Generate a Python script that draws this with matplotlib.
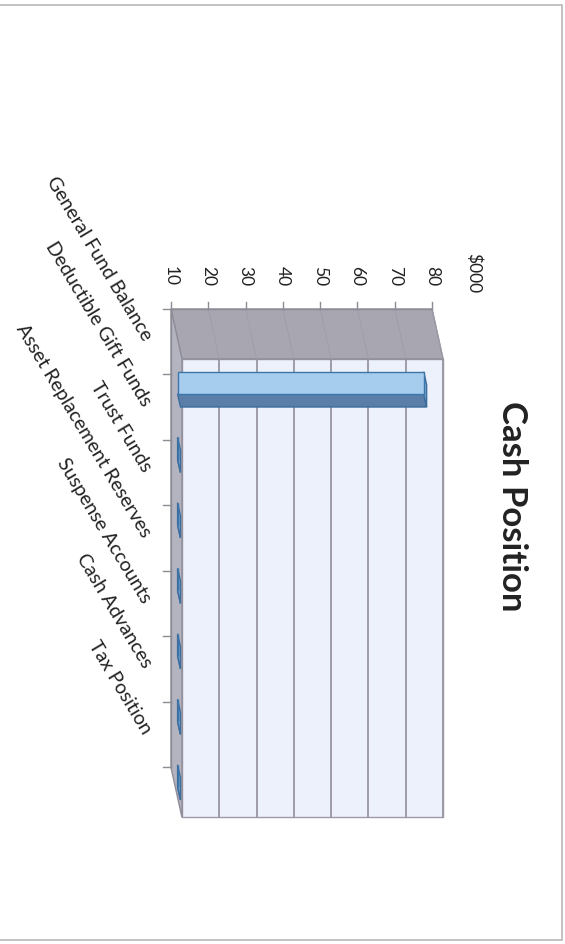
import matplotlib.pyplot as plt
from matplotlib.patches import Polygon, Rectangle

# Cash position by account, in $000
categories = ['General Fund Balance', 'Deductible Gift Funds', 'Trust Funds',
              'Asset Replacement Reserves', 'Suspense Accounts', 'Cash Advances',
              'Tax Position']
values = [76, 2, 1, 1, 1, 1, 1]
value_ticks = [10, 20, 30, 40, 50, 60, 70, 80]
title = 'Cash Position'
unit_label = '$000'

plt.rcParams['font.family'] = ['Lato', 'DejaVu Sans']

VMIN, VMAX = value_ticks[0], value_ticks[-1]
n = len(categories)
# depth direction of the 3D box, in (value, category) units
DX, DY = 2.95, 0.763


def P(v, c, d):
    return (v + d * DX, c + d * DY)


fig = plt.figure(figsize=(5.65, 9.45), dpi=100)
ax = fig.add_axes([0, 0, 1, 1])
ax.set_xlim(-35.84, 115.63)
ax.set_ylim(9.695, -4.733)
ax.axis('off')

# walls: back wall, side wall, floor
back = [P(VMIN, 0, 1), P(VMAX, 0, 1), P(VMAX, n, 1), P(VMIN, n, 1)]
ax.add_patch(Polygon(back, closed=True, fc='#edf1fb', ec='#9c9ba6', lw=1, zorder=1))
side = [P(VMIN, 0, 0), P(VMAX, 0, 0), P(VMAX, 0, 1), P(VMIN, 0, 1)]
ax.add_patch(Polygon(side, closed=True, fc='#a8a6b1', ec='#8e8d98', lw=1, zorder=2))
floor = [P(VMIN, 0, 0), P(VMIN, n, 0), P(VMIN, n, 1), P(VMIN, 0, 1)]
ax.add_patch(Polygon(floor, closed=True, fc='#b4b3c0', ec='#8e8d98', lw=1, zorder=2))

# gridlines
for v in value_ticks[1:]:
    x0, y0 = P(v, 0, 1)
    x1, y1 = P(v, n, 1)
    ax.plot([x0, x1], [y0, y1], color='#9896a2', lw=1.3, zorder=1.5)
    x2, y2 = P(v, 0, 0)
    ax.plot([x2, x0], [y2, y0], color='#a09eaa', lw=0.7, zorder=2.5)

# value axis with ticks and labels
ax.plot([VMIN, VMAX], [0, 0], color='#8c8c94', lw=1, zorder=3)
for v in value_ticks:
    ax.plot([v, v], [0, -0.11], color='#8c8c94', lw=1, zorder=3)
    ax.text(v, -0.52, str(v), rotation=-90, ha='center', va='center',
            fontsize=12.5, color='#222222')
ax.text(91.2, -0.57, unit_label, rotation=-90, ha='center', va='center',
        fontsize=12.5, color='#222222')

# category axis
ax.plot([VMIN, VMIN], [0, n], color='#8c8c94', lw=1, zorder=3)
for c in range(n + 1):
    ax.plot([VMIN - 2.2, VMIN], [c, c], color='#8c8c94', lw=1, zorder=3)
for c, name in enumerate(categories):
    ax.text(3.6, c + 0.45, name, rotation=-59, rotation_mode='anchor',
            ha='right', va='center', fontsize=14, color='#222222')

# 3D bars
a, b = 0.50, 0.84
d0, d1 = 0.60, 0.86
for c, val in enumerate(values):
    top = max(val, VMIN)
    front = [P(VMIN, c + a, d0), P(top, c + a, d0), P(top, c + b, d0), P(VMIN, c + b, d0)]
    lower = [P(VMIN, c + b, d0), P(top, c + b, d0), P(top, c + b, d1), P(VMIN, c + b, d1)]
    cap = [P(top, c + a, d0), P(top, c + b, d0), P(top, c + b, d1), P(top, c + a, d1)]
    ax.add_patch(Polygon(lower, closed=True, fc='#5b7ea8', ec='#3b6d9e', lw=1, zorder=4))
    ax.add_patch(Polygon(cap, closed=True, fc='#7aa5d0', ec='#3b6d9e', lw=1, zorder=4))
    ax.add_patch(Polygon(front, closed=True, fc='#a6cdee', ec='#3b76aa', lw=1, zorder=5))

ax.text(101.4, 2.99, title, rotation=-90, ha='center', va='center',
        fontsize=25, fontweight='bold', color='#222222')

# outer frame
fig.patches.append(Rectangle((-0.01, 4 / 945), 1 - 3 / 565 + 0.01, 1 - 10 / 945,
                             transform=fig.transFigure, fill=False,
                             ec='#b8b8b8', lw=1.2))

fig.savefig('out.png', dpi=100, facecolor='white')
